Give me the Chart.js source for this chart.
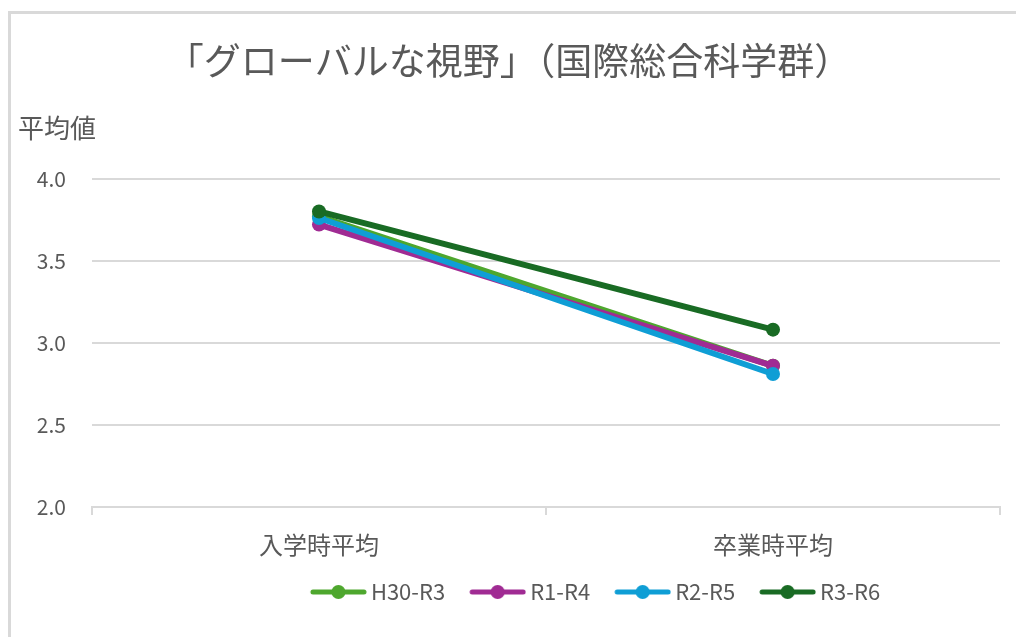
<!DOCTYPE html>
<html>
<head>
<meta charset="utf-8">
<script src="https://cdn.jsdelivr.net/npm/chart.js@4"></script>
<style>
  html, body { margin: 0; padding: 0; background: #fff; }
  .frame { position: absolute; left: 0; top: 0; width: 1016px; height: 637px; overflow: hidden; }
  .edge { position: absolute; left: 8px; top: 11px; width: 2000px; height: 2000px;
          border-left: 3px solid #d9d9d9; border-top: 3px solid #d9d9d9; }
  canvas { position: absolute; left: 0; top: 0; }
</style>
</head>
<body>
<div class="frame">
  <div class="edge"></div>
  <canvas id="line-chart" width="1016" height="637"></canvas>
</div>
<script>
const categories = ['入学時平均', '卒業時平均'];
const seriesNames = ['H30-R3', 'R1-R4', 'R2-R5', 'R3-R6'];
const h30r3 = [3.77, 2.86];
const r1r4 = [3.72, 2.86];
const r2r5 = [3.76, 2.81];
const r3r6 = [3.80, 3.08];
const yTicks = [2.0, 2.5, 3.0, 3.5, 4.0];
const colors = ['#4ea72e', '#a02b93', '#0f9ed5', '#196b24'];

const font = '"Noto Sans CJK JP", "Noto Sans", sans-serif';
const gray = '#595959';

// line + dot image for legend, drawn in the right part of an 80px image
function legendMark(color) {
    const c = document.createElement('canvas');
    c.width = 80; c.height = 16;
    const g = c.getContext('2d');
    g.strokeStyle = color;
    g.lineWidth = 5;
    g.lineCap = 'round';
    g.beginPath(); g.moveTo(26, 8); g.lineTo(77, 8); g.stroke();
    g.fillStyle = color;
    g.beginPath(); g.arc(51.5, 8, 7, 0, Math.PI * 2); g.fill();
    return c;
}

// move the legend row to the right like the original
const legendShift = {
    id: 'legendShift',
    afterLayout(c) {
        const lg = c.legend;
        const dx = 78;
        lg.left += dx;
        lg.right += dx;
    }
};

const values = [h30r3, r1r4, r2r5, r3r6];
const datasets = values.map((v, i) => ({
    label: seriesNames[i],
    data: v,
    borderColor: colors[i],
    backgroundColor: colors[i],
    borderWidth: 6,
    borderCapStyle: 'round',
    pointRadius: 7,
    pointHoverRadius: 7,
    pointBorderWidth: 0,
    tension: 0,
    order: values.length - i
}));

const chart = document.getElementById('line-chart').getContext('2d');
const myChart = new Chart(chart, {
    type: 'line',
    data: { labels: categories, datasets: datasets },
    plugins: [legendShift],
    options: {
        responsive: false,
        animation: false,
        layout: { padding: { left: 18, right: 16, top: 0, bottom: 24 } },
        scales: {
            x: {
                offset: true,
                afterFit: (s) => { s.height = 66; },
                grid: { offset: true, drawOnChartArea: false, drawTicks: true, tickLength: 8, color: '#d9d9d9', lineWidth: 2 },
                border: { display: true, color: '#d9d9d9', width: 2 },
                ticks: { color: gray, padding: 15, font: { family: font, size: 24 } }
            },
            y: {
                min: 2, max: 4,
                afterBuildTicks: (s) => { s.ticks = yTicks.map(v => ({ value: v })); },
                afterFit: (s) => { s.width = 74; },
                grid: { color: '#d9d9d9', lineWidth: 2, drawTicks: false },
                border: { display: false },
                ticks: { color: gray, padding: 26, font: { family: font, size: 21 },
                         callback: (v) => Number(v).toFixed(1) }
            }
        },
        plugins: {
            title: {
                display: true,
                text: '「グローバルな視野」（国際総合科学群）',
                color: gray,
                font: { family: font, size: 37, weight: 'normal' },
                padding: { top: 39, bottom: 0 }
            },
            subtitle: {
                display: true,
                text: '平均値',
                align: 'start',
                color: gray,
                font: { family: font, size: 26, weight: 'normal' },
                padding: { top: 29, bottom: 35 }
            },
            legend: {
                position: 'bottom',
                sort: (a, b) => a.datasetIndex - b.datasetIndex,
                labels: {
                    usePointStyle: true,
                    pointStyleWidth: 66,
                    color: gray,
                    padding: 8,
                    font: { family: font, size: 22 },
                    generateLabels: (c) => c.data.datasets.map((d, i) => ({
                        text: d.label,
                        fillStyle: d.borderColor,
                        strokeStyle: d.borderColor,
                        fontColor: gray,
                        lineWidth: 0,
                        pointStyle: legendMark(d.borderColor),
                        datasetIndex: i,
                        hidden: false
                    }))
                }
            },
            tooltip: { enabled: false }
        }
    }
});
</script>
</body>
</html>
